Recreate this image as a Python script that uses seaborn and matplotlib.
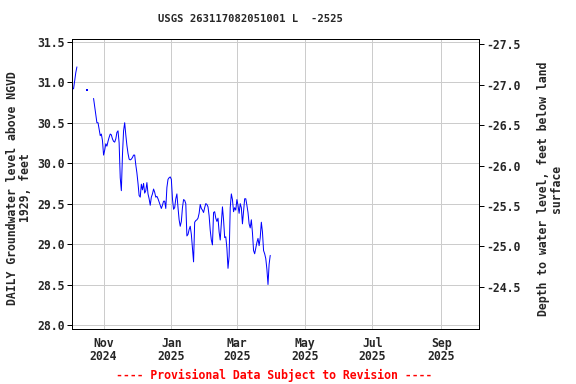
import matplotlib
matplotlib.use("Agg")
import matplotlib.pyplot as plt
import numpy as np
import pandas as pd
import seaborn as sns

# ---------------- data ----------------
early_start = "2024-10-04"
early_levels = [30.92, 30.92, 31.02, 31.12, 31.19]

single_date = "2024-10-17"
single_level = [30.90]

main_start = "2024-10-23"
main_levels = [
    30.80, 30.70, 30.60, 30.50, 30.50, 30.42, 30.34, 30.36, 30.28,
    30.10, 30.16, 30.24, 30.21, 30.27, 30.32, 30.36, 30.35, 30.30, 30.27,
    30.26, 30.30, 30.38, 30.40, 30.25, 29.82, 29.66, 30.10, 30.40, 30.50,
    30.35, 30.22, 30.12, 30.05, 30.04, 30.05, 30.07, 30.10, 30.10, 29.98,
    29.88, 29.75, 29.60, 29.58, 29.74, 29.67, 29.75, 29.63, 29.66, 29.76,
    29.62, 29.56, 29.48, 29.58, 29.62, 29.68, 29.64, 29.58, 29.59, 29.56,
    29.52, 29.48, 29.44, 29.48, 29.53, 29.53, 29.44, 29.70, 29.80, 29.82,
    29.83, 29.80, 29.56, 29.43, 29.45, 29.56, 29.62, 29.45, 29.30, 29.22,
    29.28, 29.45, 29.55, 29.54, 29.50, 29.10, 29.12, 29.18, 29.22, 29.12,
    28.95, 28.78, 29.27, 29.29, 29.30, 29.32, 29.38, 29.49, 29.44, 29.42,
    29.39, 29.45, 29.50, 29.49, 29.46, 29.35, 29.17, 29.05, 28.99, 29.39,
    29.40, 29.32, 29.28, 29.32, 29.15, 29.05, 29.25, 29.46, 29.30, 29.08,
    29.09, 28.95, 28.70, 28.85, 29.45, 29.62, 29.55, 29.40, 29.45, 29.42,
    29.55, 29.48, 29.38, 29.50, 29.45, 29.25, 29.40, 29.56, 29.56, 29.48,
    29.39, 29.25, 29.20, 29.30, 29.14, 28.92, 28.88, 28.95, 29.02, 29.07,
    28.98, 29.08, 29.27, 29.15, 28.92, 28.88, 28.82, 28.69, 28.50, 28.75,
    28.86,
]

xtick_dates = ["2024-11-01", "2025-01-01", "2025-03-01", "2025-05-01",
               "2025-07-01", "2025-09-01"]
xtick_labels = ["Nov\n2024", "Jan\n2025", "Mar\n2025", "May\n2025",
                "Jul\n2025", "Sep\n2025"]
left_ticks = [28.0, 28.5, 29.0, 29.5, 30.0, 30.5, 31.0, 31.5]
right_ticks = [-27.5, -27.0, -26.5, -26.0, -25.5, -25.0, -24.5]
land_offset = 3.97  # depth = offset - level

title = "USGS 263117082051001 L  -2525"
left_label = "DAILY Groundwater level above NGVD\n1929, feet"
right_label = "Depth to water level, feet below land\nsurface"
footer = "---- Provisional Data Subject to Revision ----"

# ---------------- frame ----------------
df = pd.concat([
    pd.DataFrame({"date": pd.date_range(early_start, periods=len(early_levels)),
                  "level": early_levels, "seg": 0}),
    pd.DataFrame({"date": pd.date_range(main_start, periods=len(main_levels)),
                  "level": main_levels, "seg": 1}),
], ignore_index=True)
single_df = pd.DataFrame({"date": pd.to_datetime([single_date]), "level": single_level})

sns.set_theme(style="white")
plt.rcParams["font.family"] = ["DejaVu Sans Mono"]
plt.rcParams["font.weight"] = "bold"

W, H = 576, 384
fig = plt.figure(figsize=(W / 72, H / 72), dpi=72)
L, R, T, B = 72, 479, 39, 329
ax = fig.add_axes([L / W, 1 - B / H, (R - L) / W, (B - T) / H])

sns.lineplot(data=df, x="date", y="level", units="seg", estimator=None,
             color="#0000ff", linewidth=1.0, ax=ax, legend=False)
sns.scatterplot(data=single_df, x="date", y="level", marker="s", s=3,
                color="#0000ff", linewidth=0, ax=ax, legend=False)

ylo, yhi = 27.95, 31.535
ax.set_ylim(ylo, yhi)
ax.set_xlim(pd.Timestamp("2024-10-03 14:00"), pd.Timestamp("2025-10-04 22:00"))
ax.set_yticks(left_ticks)
ax.set_yticklabels([f"{v:.1f}" for v in left_ticks])
ax.set_xticks(pd.to_datetime(xtick_dates))
ax.set_xticklabels(xtick_labels, linespacing=1.05)
ax.set_xlabel("")
ax.set_ylabel("")

ax.set_axisbelow(True)
ax.grid(True, color="#cccccc", linewidth=1.0)
for s in ax.spines.values():
    s.set_color("black")
    s.set_linewidth(1.0)

ax.tick_params(axis="y", direction="out", length=5, width=1, color="black",
               pad=2, labelsize=11.5, left=True)
ax.tick_params(axis="x", length=0, pad=8, labelsize=11.5)

ax2 = ax.twinx()
ax2.set_ylim(land_offset - ylo, land_offset - yhi)
ax2.set_yticks(right_ticks)
ax2.set_yticklabels([f"{v:.1f}" for v in right_ticks])
ax2.tick_params(axis="y", direction="out", length=5, width=1, color="black",
                pad=2, labelsize=11.5, right=True)
ax2.grid(False)
for s in ax2.spines.values():
    s.set_color("black")
    s.set_linewidth(1.0)

fig.text(250 / W, 1 - 19 / H, title, ha="center", va="center", fontsize=10.5,
         fontweight="bold")
fig.text(19 / W, 1 - 188 / H, left_label, rotation=90, ha="center", va="center",
         multialignment="center", fontsize=11.5, linespacing=0.95, fontweight="bold")
fig.text(550 / W, 1 - 189 / H, right_label, rotation=90, ha="center", va="center",
         multialignment="center", fontsize=11.5, linespacing=0.95, fontweight="bold")
fig.text(274 / W, 1 - 375 / H, footer, ha="center", va="center", fontsize=11.5,
         color="red", fontweight="bold")

fig.savefig("out.png", dpi=72)
